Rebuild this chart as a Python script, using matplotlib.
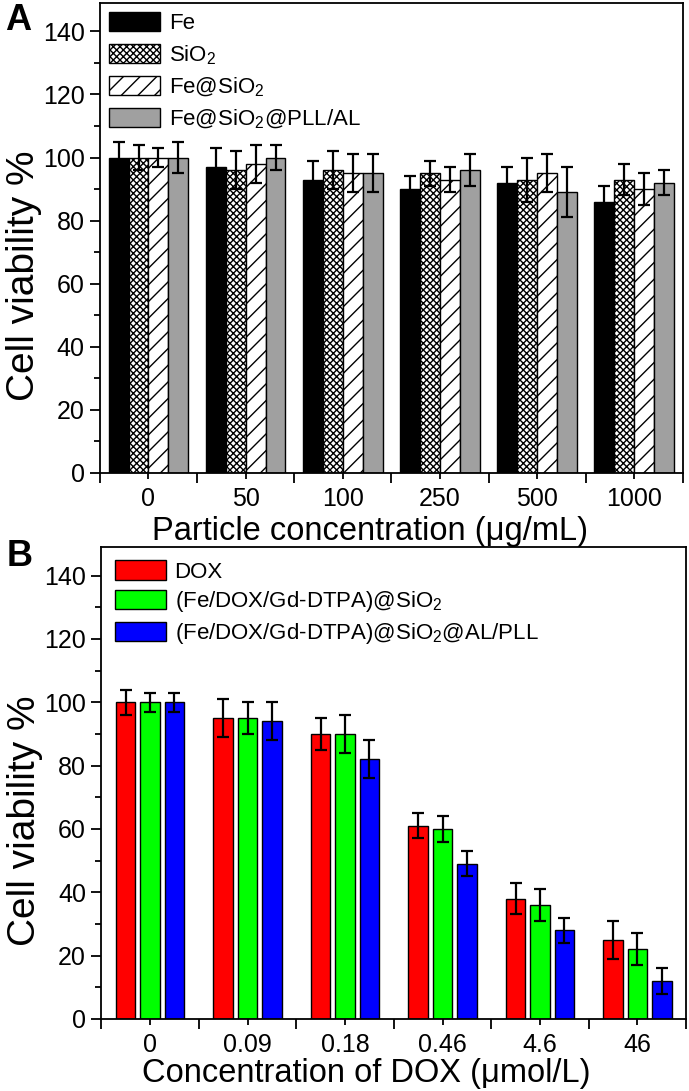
import matplotlib

matplotlib.use("Agg")
import matplotlib.pyplot as plt
import numpy as np
from matplotlib.ticker import FixedLocator, NullFormatter, FixedFormatter

plt.rcParams["font.family"] = ["Liberation Sans", "DejaVu Sans"]
plt.rcParams["mathtext.default"] = "regular"
plt.rcParams["hatch.linewidth"] = 1.0

# Panel A data
conc_particle = ["0", "50", "100", "250", "500", "1000"]
a_labels = ["Fe", "SiO$_2$", "Fe@SiO$_2$", "Fe@SiO$_2$@PLL/AL"]
fe = [100, 97, 93, 90, 92, 86]
fe_err = [5, 6, 6, 4, 5, 5]
sio2 = [100, 96, 96, 95, 93, 93]
sio2_err = [4, 6, 6, 4, 7, 5]
fe_sio2 = [100, 98, 95, 93, 95, 90]
fe_sio2_err = [3, 6, 6, 4, 6, 5]
fe_sio2_pll = [100, 100, 95, 96, 89, 92]
fe_sio2_pll_err = [5, 4, 6, 5, 8, 4]

# Panel B data
conc_dox = ["0", "0.09", "0.18", "0.46", "4.6", "46"]
b_labels = ["DOX", "(Fe/DOX/Gd-DTPA)@SiO$_2$", "(Fe/DOX/Gd-DTPA)@SiO$_2$@AL/PLL"]
dox = [100, 95, 90, 61, 38, 25]
dox_err = [4, 6, 5, 4, 5, 6]
fe_dox = [100, 95, 90, 60, 36, 22]
fe_dox_err = [3, 5, 6, 4, 5, 5]
fe_dox_alpll = [100, 94, 82, 49, 28, 12]
fe_dox_alpll_err = [3, 6, 6, 4, 4, 4]

fig = plt.figure(figsize=(6.89, 10.91), dpi=100)
ax_a = fig.add_axes([0.145, 0.5665, 0.846, 0.4308])
ax_b = fig.add_axes([0.147, 0.066, 0.849, 0.4326])

ebar = dict(ecolor="black", elinewidth=1.6, capsize=4, capthick=1.6)


def style_axis(ax, cats, xlabel, xlabel_x, xlabel_pad):
    ax.set_xlim(0.5, 6.5)
    ax.set_ylim(0, 149)
    for s in ax.spines.values():
        s.set_linewidth(1.3)
    ax.yaxis.set_major_locator(FixedLocator(np.arange(0, 141, 20)))
    ax.yaxis.set_minor_locator(FixedLocator(np.arange(10, 141, 20)))
    # long ticks at group boundaries, short labelled ticks at group centres
    ax.xaxis.set_major_locator(FixedLocator(np.arange(0.5, 7, 1)))
    ax.xaxis.set_major_formatter(NullFormatter())
    ax.xaxis.set_minor_locator(FixedLocator(np.arange(1, 7)))
    ax.xaxis.set_minor_formatter(FixedFormatter(cats))
    ax.tick_params(axis="both", which="major", direction="out", length=7, width=1.3, labelsize=18)
    ax.tick_params(axis="both", which="minor", direction="out", length=4, width=1.3, labelsize=18)
    ax.tick_params(axis="y", which="major", pad=4)
    ax.tick_params(axis="x", which="minor", pad=6)
    ax.set_ylabel("Cell viability %", fontsize=28)
    ax.yaxis.set_label_coords(-0.1, 0.42)
    ax.set_xlabel(xlabel, fontsize=23.5, labelpad=xlabel_pad)
    ax.xaxis.label.set_x(xlabel_x)


# Panel A
x = np.arange(1, 7)
w = 0.205
ax_a.bar(x - 1.5 * w, fe, w, yerr=fe_err, color="black", edgecolor="black", linewidth=1, error_kw=ebar, label=a_labels[0])
ax_a.bar(x - 0.5 * w, sio2, w, yerr=sio2_err, color="white", edgecolor="black", hatch="xxxxx", linewidth=1, error_kw=ebar, label=a_labels[1])
ax_a.bar(x + 0.5 * w, fe_sio2, w, yerr=fe_sio2_err, color="white", edgecolor="black", hatch="//", linewidth=1, error_kw=ebar, label=a_labels[2])
ax_a.bar(x + 1.5 * w, fe_sio2_pll, w, yerr=fe_sio2_pll_err, color="#a0a0a0", edgecolor="black", linewidth=1, error_kw=ebar, label=a_labels[3])
style_axis(ax_a, conc_particle, "Particle concentration (μg/mL)", 0.463, 4)
ax_a.legend(loc="upper left", frameon=False, fontsize=16, handlelength=2.3, handleheight=0.95,
            labelspacing=0.4, handletextpad=0.4, borderaxespad=0.1, borderpad=0.3)

# Panel B
wb = 0.2
off = 0.25
ax_b.bar(x - off, dox, wb, yerr=dox_err, color="#ff0000", edgecolor="black", linewidth=1, error_kw=ebar, label=b_labels[0])
ax_b.bar(x, fe_dox, wb, yerr=fe_dox_err, color="#00ff00", edgecolor="black", linewidth=1, error_kw=ebar, label=b_labels[1])
ax_b.bar(x + off, fe_dox_alpll, wb, yerr=fe_dox_alpll_err, color="#0000ff", edgecolor="black", linewidth=1, error_kw=ebar, label=b_labels[2])
style_axis(ax_b, conc_dox, "Concentration of DOX (μmol/L)", 0.453, 1)
ax_b.legend(loc="upper left", frameon=False, fontsize=16, handlelength=2.3, handleheight=0.95,
            labelspacing=0.3, handletextpad=0.4, borderaxespad=0.1, borderpad=0.5)

# panel letters
fig.text(0.008, 0.997, "A", fontsize=26, fontweight="bold", va="top")
fig.text(0.010, 0.506, "B", fontsize=26, fontweight="bold", va="top")

fig.savefig("out.png", dpi=100)
